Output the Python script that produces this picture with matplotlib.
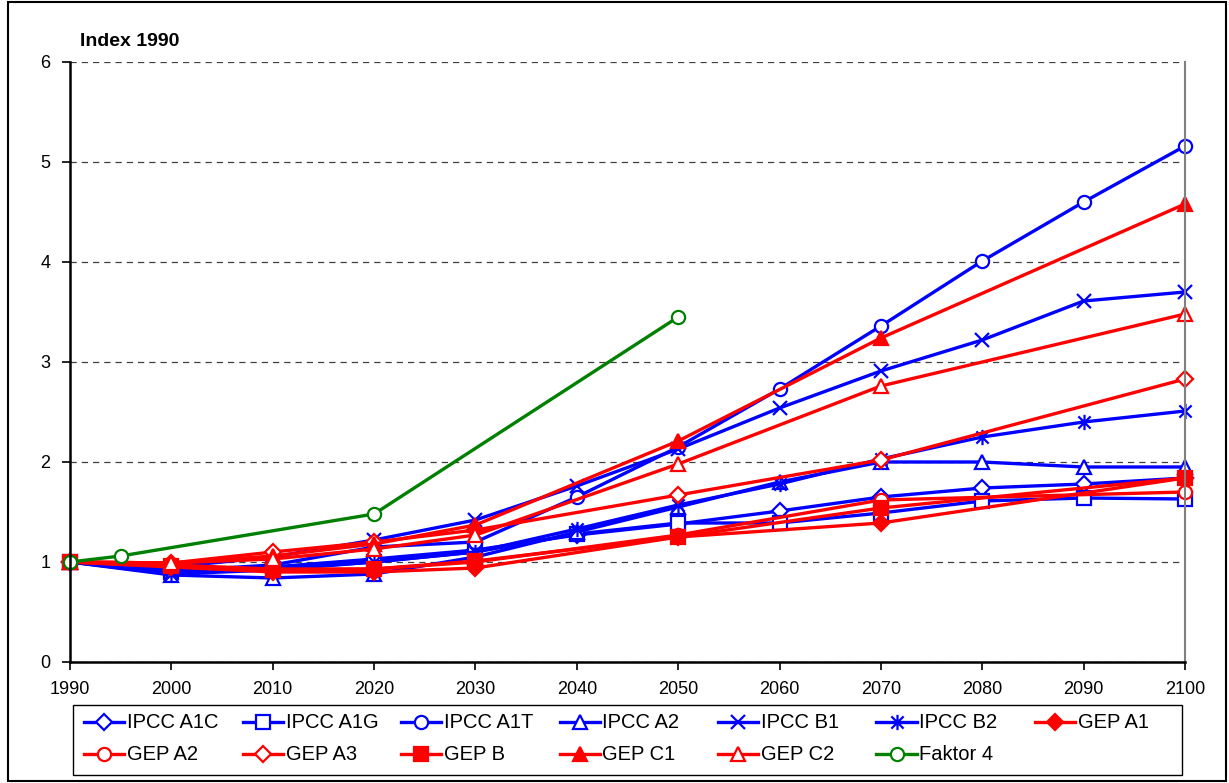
import matplotlib.pyplot as plt
import numpy as np
from matplotlib.path import Path
from matplotlib.patches import Rectangle
from matplotlib.lines import Line2D

plt.rcParams['font.family'] = ['Liberation Sans', 'DejaVu Sans']
plt.rcParams['font.size'] = 13

# years
years_ipcc = [1990, 2000, 2010, 2020, 2030, 2040, 2050, 2060, 2070, 2080, 2090, 2100]
years_gep = [1990, 2000, 2010, 2020, 2030, 2050, 2070, 2100]
years_f4 = [1990, 1995, 2020, 2050]

# IPCC scenarios (index 1990 = 1)
ipcc_a1c = [1.0, 0.92, 0.95, 1.03, 1.12, 1.27, 1.38, 1.51, 1.65, 1.74, 1.78, 1.84]
ipcc_a1g = [1.0, 0.90, 0.93, 1.00, 1.10, 1.28, 1.39, 1.39, 1.49, 1.61, 1.64, 1.63]
ipcc_a1t = [1.0, 0.91, 0.97, 1.15, 1.20, 1.65, 2.15, 2.73, 3.36, 4.01, 4.60, 5.16]
ipcc_a2 = [1.0, 0.87, 0.84, 0.88, 1.05, 1.30, 1.55, 1.80, 2.00, 2.00, 1.95, 1.95]
ipcc_b1 = [1.0, 0.95, 1.05, 1.22, 1.42, 1.76, 2.13, 2.54, 2.91, 3.22, 3.61, 3.70]
ipcc_b2 = [1.0, 0.88, 0.92, 1.00, 1.10, 1.33, 1.57, 1.78, 2.03, 2.25, 2.40, 2.51]

# GEP scenarios
gep_a1 = [1.0, 0.95, 0.90, 0.90, 0.94, 1.25, 1.39, 1.84]
gep_a2 = [1.0, 0.97, 0.93, 0.93, 1.00, 1.27, 1.62, 1.70]
gep_a3 = [1.0, 0.99, 1.10, 1.20, 1.32, 1.67, 2.02, 2.83]
gep_b = [1.0, 0.96, 0.92, 0.93, 1.01, 1.25, 1.54, 1.84]
gep_c1 = [1.0, 0.99, 1.06, 1.18, 1.37, 2.21, 3.24, 4.58]
gep_c2 = [1.0, 0.99, 1.03, 1.13, 1.27, 1.98, 2.76, 3.48]

faktor4 = [1.0, 1.06, 1.48, 3.45]

# Excel style asterisk: an x with a vertical bar
star = Path([(-1, -1), (1, 1), (-1, 1), (1, -1), (0, -1.25), (0, 1.25)],
            [Path.MOVETO, Path.LINETO, Path.MOVETO, Path.LINETO, Path.MOVETO, Path.LINETO])

blue = '#0000ff'
red = '#ff0000'
green = '#008000'
lw = 2.4
ms = 9.5

W, H = 1229, 783
fig = plt.figure(figsize=(W / 100, H / 100), dpi=100)
ax = fig.add_axes([70 / W, 121 / H, 1115 / W, 600 / H])

# name, x, y, colour, marker, size, face
series = [
    ('IPCC A1C', years_ipcc, ipcc_a1c, blue, 'D', 8, 'white'),
    ('IPCC A1G', years_ipcc, ipcc_a1g, blue, 's', ms, 'white'),
    ('IPCC A1T', years_ipcc, ipcc_a1t, blue, 'o', ms, 'white'),
    ('IPCC A2', years_ipcc, ipcc_a2, blue, '^', ms, 'white'),
    ('IPCC B1', years_ipcc, ipcc_b1, blue, 'x', 10, 'white'),
    ('IPCC B2', years_ipcc, ipcc_b2, blue, star, 11, 'white'),
    ('GEP A1', years_gep, gep_a1, red, 'D', 8, red),
    ('GEP A2', years_gep, gep_a2, red, 'o', ms, 'white'),
    ('GEP A3', years_gep, gep_a3, red, 'D', 8, 'white'),
    ('GEP B', years_gep, gep_b, red, 's', ms, red),
    ('GEP C1', years_gep, gep_c1, red, '^', ms, red),
    ('GEP C2', years_gep, gep_c2, red, '^', ms, 'white'),
    ('Faktor 4', years_f4, faktor4, green, 'o', ms, 'white'),
]

for name, xs, ys, col, mk, size, face in series:
    ax.plot(xs, ys, color=col, lw=lw, marker=mk, ms=size, mfc=face, mec=col,
            mew=1.6, label=name, clip_on=False)

ax.set_xlim(1990, 2100)
ax.set_ylim(0, 6)
ax.set_xticks(np.arange(1990, 2101, 10))
ax.set_yticks(np.arange(0, 7, 1))
ax.grid(axis='y', color='black', ls=(0, (5, 4)), lw=0.9, alpha=0.75)
ax.tick_params(direction='out', length=6, width=1.2, labelsize=13)
ax.tick_params(axis='x', pad=8)
ax.tick_params(axis='y', pad=8)
ax.spines['top'].set_visible(False)
ax.spines['right'].set_color('#808080')
ax.spines['right'].set_linewidth(1.5)
ax.spines['left'].set_linewidth(1.8)
ax.spines['bottom'].set_linewidth(1.8)
ax.set_axisbelow(True)

fig.text(80 / W, 1 - 42 / H, 'Index 1990', fontsize=14, fontweight='bold',
         va='center', ha='left')

# legend box with equal width columns, filled row by row
fig.patches.append(Rectangle((73 / W, 1 - 775 / H), 1109 / W, 70 / H,
                             transform=fig.transFigure, fill=False,
                             edgecolor='black', lw=1.0))
for i, (name, xs, ys, col, mk, size, face) in enumerate(series):
    row, c = divmod(i, 7)
    x0 = 84 + c * 158.5
    y = 1 - (722 + row * 32) / H
    fig.add_artist(Line2D([x0 / W, (x0 + 20) / W, (x0 + 40) / W], [y, y, y],
                          transform=fig.transFigure, color=col, lw=lw,
                          marker=mk, ms=size, mfc=face, mec=col, mew=1.6,
                          markevery=[1]))
    fig.text((x0 + 43) / W, y, name, fontsize=14.5, va='center', ha='left')

fig.patches.append(Rectangle((8 / W, 2 / H), 1218 / W, 779 / H,
                             transform=fig.transFigure, fill=False,
                             edgecolor='black', lw=1.5))

fig.savefig('out.png', dpi=100)
